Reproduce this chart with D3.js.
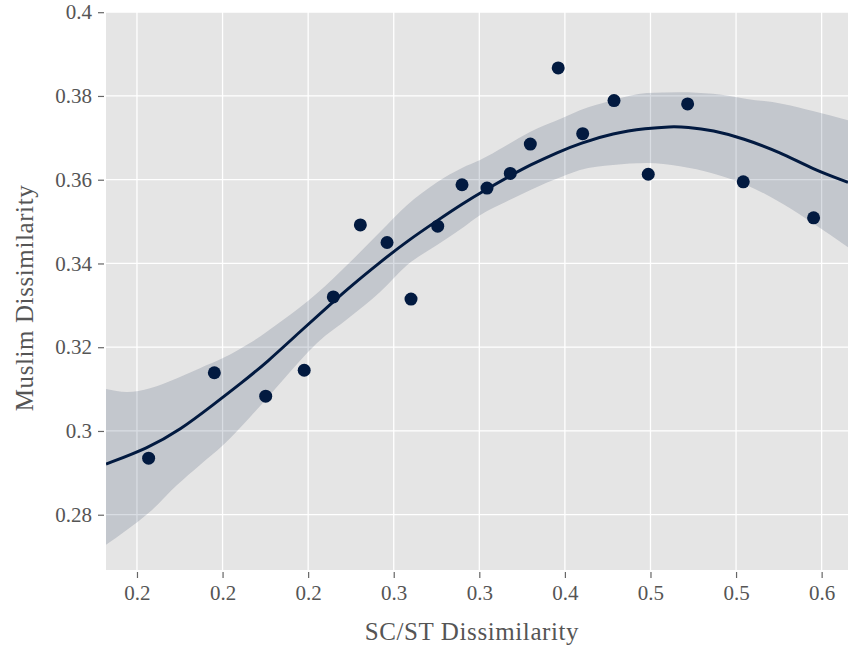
<!DOCTYPE html>
<html><head><meta charset="utf-8">
<script src="https://cdn.jsdelivr.net/npm/d3@7/dist/d3.min.js"></script>
<style>body{margin:0;background:#fff}svg{display:block}</style>
</head><body>
<script>
// ---- data ----
const scst = [0.1568,0.1952,0.2252,0.2477,0.2647,0.2805,0.2961,0.3101,0.3257,0.3399,0.3545,0.3681,0.3798,0.3961,0.4104,0.4287,0.4487,0.4717,0.5042,0.5453];
const muslim = [0.2935,0.3139,0.3083,0.3145,0.3320,0.3492,0.3450,0.3315,0.3489,0.3588,0.3580,0.3615,0.3685,0.3867,0.3710,0.3789,0.3613,0.3781,0.3595,0.3509];
// fitted curve (x, y)
const fitX = [0.1319,0.1564,0.1751,0.1950,0.2102,0.2254,0.2476,0.2645,0.2744,0.2920,0.3077,0.3253,0.3399,0.3545,0.3679,0.3796,0.3960,0.4088,0.4281,0.4479,0.4614,0.4713,0.4865,0.5040,0.5256,0.5449,0.5654];
const fitY = [0.2921,0.2959,0.3002,0.3064,0.3112,0.3162,0.3246,0.3308,0.3344,0.3403,0.3453,0.3502,0.3542,0.3578,0.3609,0.3635,0.3666,0.3687,0.3711,0.3723,0.3727,0.3726,0.3718,0.3699,0.3666,0.3625,0.3594];
// confidence band
const bandX = [0.1319,0.1442,0.1576,0.1734,0.1868,0.2002,0.2160,0.2353,0.2552,0.2744,0.2920,0.3077,0.3253,0.3399,0.3504,0.3650,0.3796,0.3989,0.4088,0.4281,0.4479,0.4672,0.4865,0.5063,0.5274,0.5449,0.5654];
const bandHi = [0.3100,0.3093,0.3102,0.3126,0.3150,0.3174,0.3210,0.3265,0.3329,0.3403,0.3475,0.3539,0.3594,0.3628,0.3647,0.3680,0.3714,0.3748,0.3766,0.3790,0.3807,0.3809,0.3805,0.3793,0.3781,0.3764,0.3742];
const bandLo = [0.2728,0.2764,0.2807,0.2871,0.2919,0.2966,0.3033,0.3122,0.3210,0.3272,0.3332,0.3396,0.3444,0.3484,0.3515,0.3546,0.3575,0.3608,0.3623,0.3635,0.3640,0.3632,0.3615,0.3587,0.3542,0.3496,0.3439];
const xTickValues = [0.15,0.20,0.25,0.30,0.35,0.40,0.45,0.50,0.55];
const xTickLabels = ["0.2","0.2","0.2","0.3","0.3","0.4","0.5","0.5","0.6"];
const yTickValues = [0.28,0.30,0.32,0.34,0.36,0.38,0.40];
const yTickLabels = ["0.28","0.3","0.32","0.34","0.36","0.38","0.4"];
const xTitle = "SC/ST Dissimilarity";
const yTitle = "Muslim Dissimilarity";

// ---- layout ----
const W = 848, H = 649;
const L = 106, R = 848, T = 12, B = 570;
const x = d3.scaleLinear().domain([0.1319, 0.5654]).range([L, R]);
const y = d3.scaleLinear().domain([0.26680, 0.40005]).range([B, T]);
const navy = "#021a40";
const txt = "#555555";
const font = "'Liberation Serif','DejaVu Serif',serif";

const svg = d3.select("body").append("svg").attr("width", W).attr("height", H);
svg.append("defs").append("clipPath").attr("id","clip")
  .append("rect").attr("x",L).attr("y",T).attr("width",R-L).attr("height",B-T);

svg.append("rect").attr("x",L).attr("y",T).attr("width",R-L).attr("height",B-T).attr("fill","#e5e5e5");

// grid
const g = svg.append("g");
g.selectAll(".vx").data(xTickValues).join("line")
  .attr("x1",d=>x(d)).attr("x2",d=>x(d)).attr("y1",T).attr("y2",B)
  .attr("stroke","#fff").attr("stroke-width",1.3);
g.selectAll(".hy").data(yTickValues).join("line")
  .attr("y1",d=>y(d)).attr("y2",d=>y(d)).attr("x1",L).attr("x2",R)
  .attr("stroke","#fff").attr("stroke-width",1.3);

const plot = svg.append("g").attr("clip-path","url(#clip)");
const bandData = bandX.map((v,i)=>({x:v, lo:bandLo[i], hi:bandHi[i]}));
plot.append("path").datum(bandData)
  .attr("d", d3.area().x(d=>x(d.x)).y0(d=>y(d.lo)).y1(d=>y(d.hi)).curve(d3.curveMonotoneX))
  .attr("fill", navy).attr("fill-opacity", 0.15);
const fitData = fitX.map((v,i)=>({x:v, y:fitY[i]}));
plot.append("path").datum(fitData)
  .attr("d", d3.line().x(d=>x(d.x)).y(d=>y(d.y)).curve(d3.curveBasis))
  .attr("fill","none").attr("stroke",navy).attr("stroke-width",3);
plot.selectAll("circle").data(scst.map((v,i)=>[v,muslim[i]])).join("circle")
  .attr("cx",d=>x(d[0])).attr("cy",d=>y(d[1])).attr("r",6.5).attr("fill",navy);

// axes
const xAxis = d3.axisBottom(x).tickValues(xTickValues).tickSize(6).tickPadding(7)
  .tickFormat((d,i)=>xTickLabels[i]);
const gx = svg.append("g").attr("transform",`translate(0,${B+2})`).call(xAxis);
const yAxis = d3.axisLeft(y).tickValues(yTickValues).tickSize(6).tickPadding(6)
  .tickFormat((d,i)=>yTickLabels[i]);
const gy = svg.append("g").attr("transform",`translate(${L-2},0)`).call(yAxis);
[gx,gy].forEach(a=>{
  a.select(".domain").remove();
  a.selectAll(".tick line").attr("stroke","#666").attr("stroke-width",1.2);
  a.selectAll(".tick text").attr("fill",txt).style("font-family",font).style("font-size","21px");
});

svg.append("text").attr("x",472).attr("y",640).attr("text-anchor","middle")
  .attr("fill",txt).style("font-family",font).style("font-size","25px").style("letter-spacing","0.6px").text(xTitle);
svg.append("text").attr("transform","translate(33,298) rotate(-90)").attr("text-anchor","middle")
  .attr("fill",txt).style("font-family",font).style("font-size","25px").style("letter-spacing","0.6px").text(yTitle);
</script>
</body></html>
